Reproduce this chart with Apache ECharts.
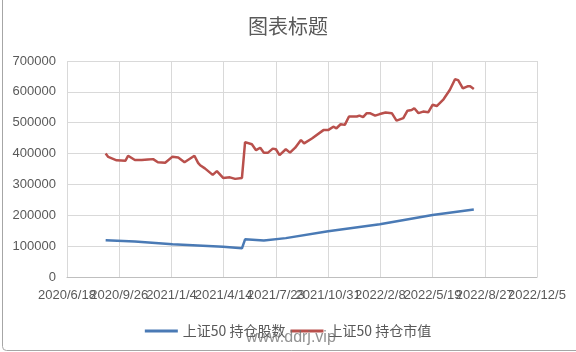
<!DOCTYPE html>
<html><head><meta charset="utf-8">
<script src="https://cdn.jsdelivr.net/npm/echarts@6/dist/echarts.min.js"></script>
<style>html,body{margin:0;padding:0;background:#fff}#c{width:576px;height:352px}</style>
</head><body><div id="c"></div>
<script>
const chartTitle = '图表标题';
const seriesNames = ['上证50 持仓股数', '上证50 持仓市值'];
const xMin = '2020-06-18', xMax = '2022-12-05';
const yTicks = [0, 100000, 200000, 300000, 400000, 500000, 600000, 700000];

const valueDates = ['2020-08-31','2020-09-05','2020-09-21','2020-10-08','2020-10-13','2020-10-26','2020-11-08','2020-11-20','2020-11-30','2020-12-09','2020-12-23',
'2021-01-06','2021-01-17','2021-01-29','2021-02-17','2021-02-24','2021-02-28','2021-03-09','2021-03-24','2021-04-01','2021-04-13','2021-04-26','2021-05-06','2021-05-19','2021-05-25',
'2021-06-07','2021-06-15','2021-06-23','2021-06-30','2021-07-08','2021-07-17','2021-07-23','2021-07-30','2021-08-11','2021-08-19','2021-08-29','2021-09-09','2021-09-15','2021-09-30',
'2021-10-22','2021-10-31','2021-11-10','2021-11-16','2021-11-24','2021-12-02','2021-12-10','2021-12-25','2021-12-30','2022-01-06','2022-01-13','2022-01-19','2022-01-29','2022-02-07',
'2022-02-18','2022-03-02','2022-03-11','2022-03-24','2022-04-01','2022-04-09','2022-04-14','2022-04-22','2022-05-01','2022-05-11','2022-05-19','2022-05-27','2022-06-09','2022-06-21',
'2022-07-01','2022-07-07','2022-07-16','2022-07-25','2022-07-30','2022-08-06'];
const holdValue = [400000,389000,378000,377000,393000,379000,379000,381000,382000,372000,370000,
390000,387000,372000,393000,370000,362000,352000,331000,343000,321000,323000,318000,321000,437000,
430000,411000,419000,403000,403000,416000,414000,395000,414000,403000,419000,444000,433000,449000,
476000,476000,487000,482000,495000,493000,520000,520000,523000,518000,531000,531000,523000,528000,
533000,531000,507000,515000,539000,541000,547000,531000,536000,534000,558000,554000,576000,606000,
641000,638000,611000,618000,618000,609000];

const shareDates = ['2020-08-31','2020-10-26','2021-01-06','2021-04-13','2021-05-19','2021-05-25','2021-06-30','2021-08-11','2021-10-31','2022-02-07','2022-05-19','2022-08-06'];
const holdShares = [119000,115000,106000,98000,93000,122000,118000,126000,148000,171000,201000,219000];

function serial(s){const p=s.split('-').map(Number);return Math.round((Date.UTC(p[0],p[1]-1,p[2])-Date.UTC(1899,11,30))/86400000);}
function fmt(v){const d=new Date(Date.UTC(1899,11,30)+v*86400000);return d.getUTCFullYear()+'/'+(d.getUTCMonth()+1)+'/'+d.getUTCDate();}

const xLo = serial(xMin), xHi = serial(xMax);
const chart = echarts.init(document.getElementById('c'));
const txt = '#595959';
const labelBase = {fontFamily:'Liberation Sans',fontSize:13,color:txt,margin:12,hideOverlap:false};
chart.setOption({
  animation:false,
  title:{text:chartTitle,left:'center',top:11,textStyle:{fontFamily:'Noto Sans CJK SC',fontSize:20,fontWeight:'normal',color:txt}},
  legend:{bottom:9,left:'center',itemGap:5,itemWidth:33,itemHeight:3,icon:'rect',
    textStyle:{fontFamily:'Noto Sans CJK SC',fontSize:14,color:txt},data:seriesNames},
  grid:{left:67,right:39,top:61,bottom:75,containLabel:false},
  xAxis:[
    {type:'value',min:xLo,max:xHi,interval:100,position:'bottom',
      axisLine:{lineStyle:{color:'#bfbfbf'}},axisTick:{show:false},
      axisLabel:Object.assign({formatter:fmt,showMinLabel:false,showMaxLabel:false},labelBase),
      splitLine:{show:true,lineStyle:{color:'#d9d9d9'}}},
    {type:'value',min:xLo,max:xHi,interval:100,position:'bottom',
      axisLine:{show:false},axisTick:{show:false},splitLine:{show:false},
      axisLabel:Object.assign({formatter:v=>(v===xLo||v===xHi)?fmt(v):'',showMinLabel:true,showMaxLabel:true},labelBase)}
  ],
  yAxis:{type:'value',min:yTicks[0],max:yTicks[yTicks.length-1],interval:yTicks[1]-yTicks[0],
    axisLine:{show:false},axisTick:{show:false},
    axisLabel:{formatter:v=>String(v),fontFamily:'Liberation Sans',fontSize:13,color:txt,margin:11},
    splitLine:{lineStyle:{color:'#d9d9d9'}}},
  series:[
    {name:seriesNames[0],type:'line',showSymbol:false,data:shareDates.map((d,i)=>[serial(d),holdShares[i]]),
      lineStyle:{width:2.5,color:'#4a7ab5'},itemStyle:{color:'#4a7ab5'}},
    {name:seriesNames[1],type:'line',showSymbol:false,data:valueDates.map((d,i)=>[serial(d),holdValue[i]]),
      lineStyle:{width:2.5,color:'#b9504c'},itemStyle:{color:'#b9504c'}}
  ],
  graphic:[
    {type:'rect',silent:true,z:-1,shape:{x:2.5,y:-10,width:600,height:360.5,r:4},
      style:{fill:'none',stroke:'#a6a6a6',lineWidth:1}},
    {type:'text',left:246,top:330,silent:true,z:100,
      style:{text:'www.ddrj.vip',font:'16px "Liberation Sans"',fill:'rgba(110,110,110,0.75)'}}]
});
</script></body></html>
